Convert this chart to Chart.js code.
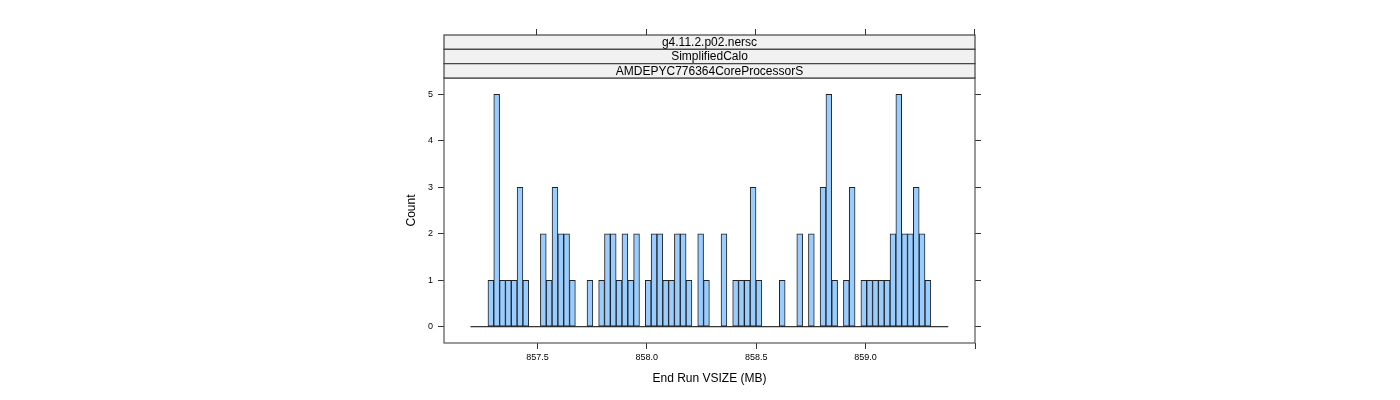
<!DOCTYPE html>
<html>
<head>
<meta charset="utf-8">
<script src="https://cdn.jsdelivr.net/npm/chart.js@4/dist/chart.umd.min.js"></script>
<style>
  html, body { margin: 0; padding: 0; background: #fff; }
  #wrap { width: 1400px; height: 400px; position: relative; }
</style>
</head>
<body>
<div id="wrap"><canvas id="c"></canvas></div>
<script>
// ---- data ----
const stripLabels = ["g4.11.2.p02.nersc", "SimplifiedCalo", "AMDEPYC776364CoreProcessorS"];
const binLow = 857.194;   // first break
const binHigh = 859.378;  // last break
const counts = [
  0,0,0,1,5,1,1,1,3,1,
  0,0,2,1,3,2,2,1,0,0,
  1,0,1,2,2,1,2,1,2,0,
  1,2,2,1,1,2,2,1,0,2,
  1,0,0,2,0,1,1,1,3,1,
  0,0,0,1,0,0,2,0,2,0,
  3,5,1,0,1,3,0,1,1,1,
  1,1,2,5,2,2,3,2,1,0,
  0,0
];
const xTicks = [857.5, 858.0, 858.5, 859.0, 859.5];
const xTickLabels = ["857.5", "858.0", "858.5", "859.0", ""];
const yTicks = [0, 1, 2, 3, 4, 5];
const xTitle = "End Run VSIZE (MB)";
const yTitle = "Count";

// ---- build datasets ----
const binW = (binHigh - binLow) / counts.length;
const barData = counts.map((c, i) => ({ x: binLow + binW * (i + 0.5), y: c }));
const baseData = [{ x: binLow, y: 0 }, { x: binHigh, y: 0 }];

const FONT = "'Liberation Sans', Arial, Helvetica, sans-serif";
Chart.defaults.font.family = FONT;
Chart.defaults.color = '#000';

const panelPlugin = {
  id: 'panel',
  afterDatasetsDraw(chart) {
    const { ctx, chartArea: a } = chart;
    ctx.save();
    ctx.strokeStyle = '#555';
    ctx.lineWidth = 1.2;
    ctx.strokeRect(a.left, a.top, a.right - a.left, a.bottom - a.top);
    const stripTop = 35;
    const h = (a.top - stripTop) / stripLabels.length;
    for (let i = 0; i < stripLabels.length; i++) {
      const y0 = stripTop + i * h;
      ctx.fillStyle = '#F1F1F1';
      ctx.fillRect(a.left, y0, a.right - a.left, h);
      ctx.strokeStyle = '#444';
      ctx.strokeRect(a.left, y0, a.right - a.left, h);
      ctx.fillStyle = '#000';
      ctx.font = '12px ' + FONT;
      ctx.textAlign = 'center';
      ctx.textBaseline = 'middle';
      ctx.fillText(stripLabels[i], (a.left + a.right) / 2, y0 + h / 2 + 0.5);
    }
    const xs = chart.scales.x;
    ctx.strokeStyle = '#333';
    ctx.lineWidth = 1;
    ctx.beginPath();
    xs.ticks.forEach(t => {
      const px = Math.round(xs.getPixelForValue(t.value)) - 0.5;
      ctx.moveTo(px, stripTop);
      ctx.lineTo(px, stripTop - 6);
    });
    ctx.stroke();
    ctx.restore();
  }
};

new Chart(document.getElementById('c'), {
  type: 'bar',
  data: {
    datasets: [
      {
        type: 'bar',
        data: barData,
        backgroundColor: '#99CCFF',
        borderColor: '#222',
        borderWidth: 1,
        borderSkipped: false,
        barPercentage: 1,
        categoryPercentage: 1,
        xAxisID: 'x',
        yAxisID: 'y',
        order: 2
      },
      {
        type: 'line',
        data: baseData,
        borderColor: '#000',
        borderWidth: 1,
        pointRadius: 0,
        xAxisID: 'x',
        yAxisID: 'y',
        order: 1
      }
    ]
  },
  options: {
    responsive: true,
    maintainAspectRatio: false,
    animation: false,
    layout: { padding: { left: 400, right: 415, top: 78, bottom: 10 } },
    plugins: { legend: { display: false }, tooltip: { enabled: false } },
    scales: {
      x: {
        type: 'linear',
        position: 'bottom',
        offset: false,
        min: 857.073,
        max: 859.5,
        afterBuildTicks: s => { s.ticks = xTicks.map(v => ({ value: v })); },
        afterFit: s => { s.height = 47; },
        ticks: {
          font: { size: 9 },
          padding: 3,
          maxRotation: 0,
          autoSkip: false,
          callback: (v) => { const i = xTicks.indexOf(v); return i >= 0 ? xTickLabels[i] : ''; }
        },
        grid: { offset: false, drawOnChartArea: false, drawTicks: true, tickLength: 6, color: '#333' },
        border: { display: false },
        title: { display: true, text: xTitle, font: { size: 12 }, padding: { top: 0, bottom: 4 } }
      },
      y: {
        type: 'linear',
        position: 'left',
        min: -0.35,
        max: 5.35,
        afterBuildTicks: s => { s.ticks = yTicks.map(v => ({ value: v })); },
        afterFit: s => { s.width = 44; },
        ticks: { font: { size: 9 }, padding: 5, callback: v => String(v) },
        grid: { drawOnChartArea: false, drawTicks: true, tickLength: 6, color: '#333' },
        border: { display: false },
        title: { display: true, text: yTitle, font: { size: 12 }, padding: { top: 4, bottom: 0 } }
      },
      y2: {
        type: 'linear',
        position: 'right',
        min: -0.35,
        max: 5.35,
        afterBuildTicks: s => { s.ticks = yTicks.map(v => ({ value: v })); },
        afterFit: s => { s.width = 10; },
        ticks: { display: false },
        grid: { drawOnChartArea: false, drawTicks: true, tickLength: 6, color: '#333' },
        border: { display: false }
      }
    }
  },
  plugins: [panelPlugin]
});
</script>
</body>
</html>
